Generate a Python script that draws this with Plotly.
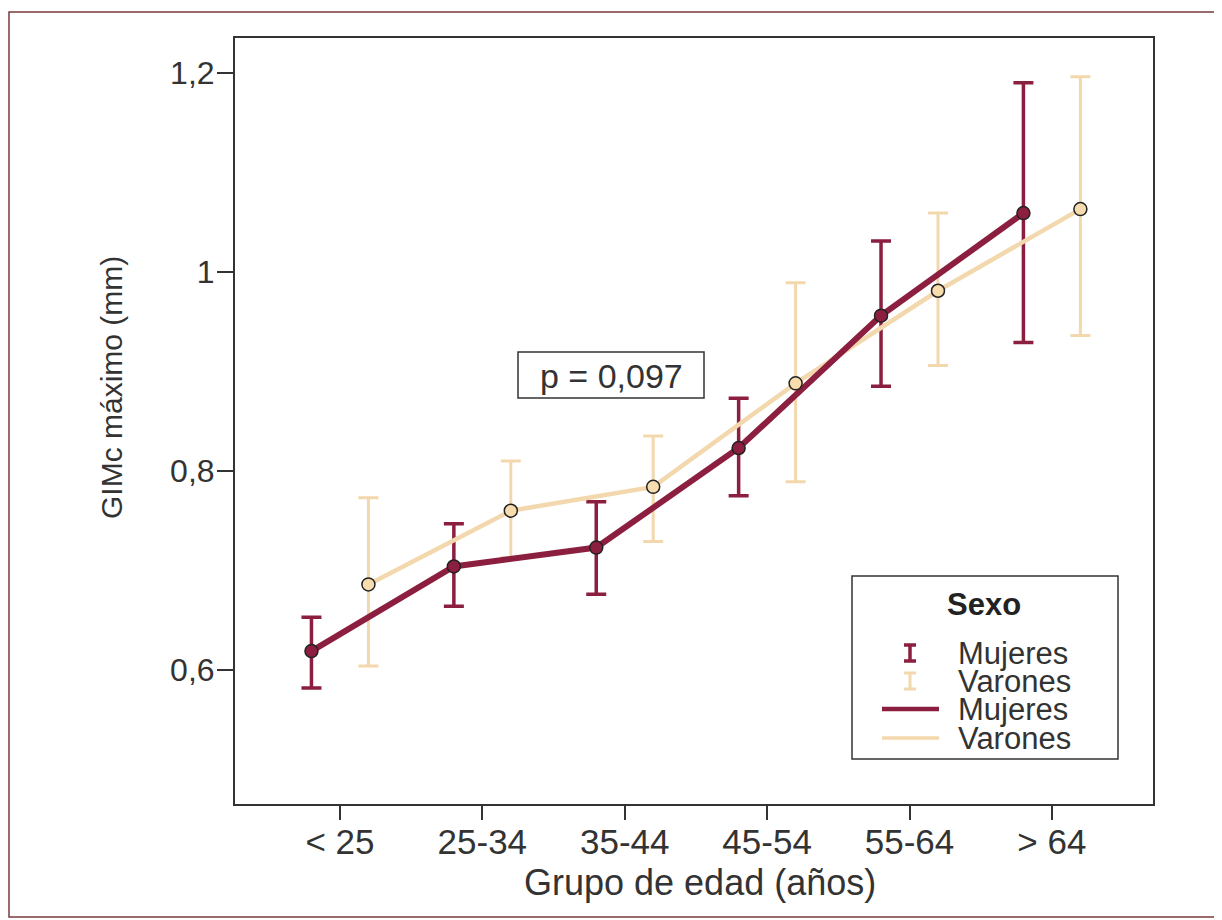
import plotly.graph_objects as go

# ---- data ----
categories = ["< 25", "25-34", "35-44", "45-54", "55-64", "> 64"]
mujeres_mean = [0.619, 0.704, 0.723, 0.823, 0.956, 1.059]
mujeres_upper = [0.653, 0.747, 0.769, 0.873, 1.031, 1.190]
mujeres_lower = [0.582, 0.664, 0.676, 0.775, 0.885, 0.929]
varones_mean = [0.686, 0.760, 0.784, 0.888, 0.981, 1.063]
varones_upper = [0.773, 0.810, 0.835, 0.989, 1.059, 1.196]
varones_lower = [0.604, 0.713, 0.729, 0.789, 0.906, 0.936]
y_ticks = [0.6, 0.8, 1.0, 1.2]
y_ticktext = ["0,6", "0,8", "1", "1,2"]
p_text = "p = 0,097"
legend_title = "Sexo"
legend_labels = ["Mujeres", "Varones", "Mujeres", "Varones"]
x_title = "Grupo de edad (años)"
y_title = "GIMc máximo (mm)"

# ---- style ----
C_M = "#8c1f3f"
C_V = "#f3d8ad"
FONT = "Liberation Sans, Arial, sans-serif"
TXT = "#333333"
OFF = 0.2

PAGE_W, PAGE_H = 1222, 920
BODY = 8  # browser default body margin
W, H = PAGE_W - BODY, PAGE_H - BODY
# plot area in page pixels
L, R, T, B = 235, 1153, 38, 804


def px(x):
    return (x - L) / (R - L)


def py(y):
    return (B - y) / (B - T)


xm = [i - OFF for i in range(len(categories))]
xv = [i + OFF for i in range(len(categories))]

fig = go.Figure()

# error bars (Varones behind)
fig.add_trace(go.Scatter(
    x=xv, y=varones_mean, mode="markers", marker=dict(size=1, opacity=0),
    error_y=dict(type="data", symmetric=False,
                 array=[u - m for u, m in zip(varones_upper, varones_mean)],
                 arrayminus=[m - l for m, l in zip(varones_mean, varones_lower)],
                 color=C_V, thickness=3, width=10),
    showlegend=False, hoverinfo="skip"))
fig.add_trace(go.Scatter(
    x=xm, y=mujeres_mean, mode="markers", marker=dict(size=1, opacity=0),
    error_y=dict(type="data", symmetric=False,
                 array=[u - m for u, m in zip(mujeres_upper, mujeres_mean)],
                 arrayminus=[m - l for m, l in zip(mujeres_mean, mujeres_lower)],
                 color=C_M, thickness=3.5, width=10),
    showlegend=False, hoverinfo="skip"))

# lines
fig.add_trace(go.Scatter(x=xv, y=varones_mean, mode="lines",
                         line=dict(color=C_V, width=4.5), showlegend=False))
fig.add_trace(go.Scatter(x=xm, y=mujeres_mean, mode="lines",
                         line=dict(color=C_M, width=6), showlegend=False))
# markers
fig.add_trace(go.Scatter(x=xv, y=varones_mean, mode="markers",
                         marker=dict(color="#f7dcae", size=13, line=dict(color="#222", width=1.5)),
                         showlegend=False))
fig.add_trace(go.Scatter(x=xm, y=mujeres_mean, mode="markers",
                         marker=dict(color=C_M, size=13, line=dict(color="#222", width=1.5)),
                         showlegend=False))

shapes = []
annotations = []

# outer frame
shapes.append(dict(type="rect", xref="paper", yref="paper",
                   x0=px(9), x1=px(1217), y0=py(917), y1=py(12),
                   line=dict(color="#7a3a3e", width=1.5), layer="below"))

# axis titles
annotations.append(dict(xref="paper", yref="paper", x=px(700), y=py(882),
                        text=x_title, showarrow=False, xanchor="center", yanchor="middle",
                        font=dict(family=FONT, size=36, color=TXT)))
annotations.append(dict(xref="paper", yref="paper", x=px(112), y=py(388),
                        text=y_title, showarrow=False, xanchor="center", yanchor="middle",
                        textangle=-90,
                        font=dict(family=FONT, size=30, color=TXT)))

# p-value box
shapes.append(dict(type="rect", xref="paper", yref="paper",
                   x0=px(518), x1=px(704), y0=py(398), y1=py(352),
                   line=dict(color="#333", width=1.5), fillcolor="white"))
annotations.append(dict(xref="paper", yref="paper", x=px(611), y=py(376),
                        text=p_text, showarrow=False, xanchor="center", yanchor="middle",
                        font=dict(family=FONT, size=34, color=TXT)))

# legend box
shapes.append(dict(type="rect", xref="paper", yref="paper",
                   x0=px(852), x1=px(1118), y0=py(759), y1=py(576),
                   line=dict(color="#333", width=1.5), fillcolor="white"))
annotations.append(dict(xref="paper", yref="paper", x=px(984), y=py(604),
                        text="<b>%s</b>" % legend_title, showarrow=False,
                        xanchor="center", yanchor="middle",
                        font=dict(family=FONT, size=31, color="#222")))
rows = [653, 681, 709, 738]
for yy, lab in zip(rows, legend_labels):
    annotations.append(dict(xref="paper", yref="paper", x=px(956), y=py(yy),
                            text=lab, showarrow=False, xanchor="left", yanchor="middle",
                            font=dict(family=FONT, size=31, color=TXT)))
# error-bar icons
for yy, col, th in [(rows[0], C_M, 3.5), (rows[1], C_V, 3)]:
    shapes.append(dict(type="line", xref="paper", yref="paper",
                       x0=px(910), x1=px(910), y0=py(yy - 8), y1=py(yy + 8),
                       line=dict(color=col, width=th)))
    for d in (-8, 8):
        shapes.append(dict(type="line", xref="paper", yref="paper",
                           x0=px(904), x1=px(916), y0=py(yy + d), y1=py(yy + d),
                           line=dict(color=col, width=th)))
# line icons
for yy, col, wd in [(rows[2], C_M, 4.5), (rows[3], C_V, 3.5)]:
    shapes.append(dict(type="line", xref="paper", yref="paper",
                       x0=px(882), x1=px(939), y0=py(yy), y1=py(yy),
                       line=dict(color=col, width=wd)))

fig.update_layout(
    width=W, height=H,
    margin=dict(l=L - BODY, r=PAGE_W - R, t=T - BODY, b=PAGE_H - B),
    paper_bgcolor="white", plot_bgcolor="white",
    showlegend=False,
    shapes=shapes, annotations=annotations,
    xaxis=dict(range=[-0.737, 5.71], tickmode="array",
               tickvals=list(range(len(categories))), ticktext=categories,
               showgrid=False, zeroline=False, showline=True, mirror=True,
               linecolor="#333", linewidth=2, ticks="outside", ticklen=14,
               tickwidth=2, tickcolor="#333", ticklabelstandoff=-8,
               tickfont=dict(family=FONT, size=35, color=TXT)),
    yaxis=dict(range=[0.4654, 1.2349], tickmode="array",
               tickvals=y_ticks, ticktext=y_ticktext,
               showgrid=False, zeroline=False, showline=True, mirror=True,
               linecolor="#333", linewidth=2, ticks="outside", ticklen=16,
               tickwidth=2, tickcolor="#333", ticklabelstandoff=-4,
               tickfont=dict(family=FONT, size=32, color=TXT)),
)

fig.write_html("out.html")
